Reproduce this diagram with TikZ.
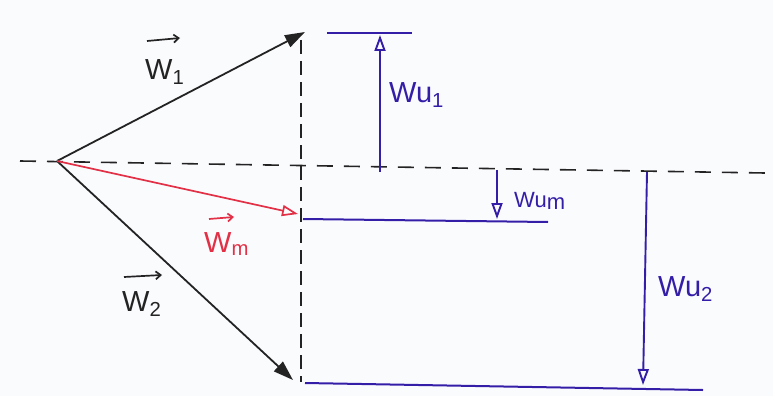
\documentclass[tikz,border=0pt]{standalone}
\usepackage{fontspec}
\setmainfont{Liberation Sans}
\usetikzlibrary{arrows.meta}
\definecolor{bgc}{RGB}{250,251,253}
\definecolor{bl}{RGB}{52,30,168}
\definecolor{rd}{RGB}{226,48,70}
\definecolor{ink}{RGB}{35,35,35}
\tikzset{
  vecblack/.style={ink,line width=1.8pt,-{Triangle[length=20pt,width=13pt]}},
  vecred/.style={rd,line width=1.7pt,-{Triangle[open,length=16pt,width=11pt,line width=1.7pt]}},
  vecblue/.style={bl,line width=1.9pt,-{Triangle[open,length=16pt,width=11pt,line width=1.9pt]}},
  blueline/.style={bl,line width=2pt},
  dashline/.style={ink,line width=1.6pt,dash pattern=on 16pt off 11pt},
  vdashline/.style={ink,line width=1.6pt,dash pattern=on 14pt off 7pt},
  lab/.style={font=\fontsize{29}{29}\selectfont,inner sep=0pt},
  labs/.style={font=\fontsize{22}{22}\selectfont,inner sep=0pt},
  overarrow/.style={line width=1.7pt,-{Straight Barb[length=5pt,width=8pt]}}
}
\begin{document}
\begin{tikzpicture}[x=1pt,y=-1pt]
\fill[bgc] (0,0) rectangle (773,396);
\useasboundingbox (0,0) rectangle (773,396);
% coordinates
\coordinate (O) at (57,161);
\coordinate (hl) at (20,161);
\coordinate (hr) at (765,173);
\coordinate (vt) at (301,40);
\coordinate (vb) at (301,382);
\coordinate (t1) at (305,32);
\coordinate (tm) at (298,214);
\coordinate (t2) at (293,380);
\coordinate (b1l) at (327,33);
\coordinate (b1r) at (412,33);
\coordinate (bml) at (303,219);
\coordinate (bmr) at (548,222);
\coordinate (b2l) at (305,383);
\coordinate (b2r) at (703,390);
\coordinate (u1s) at (380,172);
\coordinate (u1e) at (380,35);
\coordinate (ums) at (497,170);
\coordinate (ume) at (497,219);
\coordinate (u2s) at (647,172);
\coordinate (u2e) at (643,385);
% dashed lines
\draw[dashline] (hl) -- (hr);
\draw[vdashline] (vt) -- (vb);
% blue level lines
\draw[blueline] (b1l) -- (b1r);
\draw[blueline] (bml) -- (bmr);
\draw[blueline] (b2l) -- (b2r);
% vectors
\draw[vecblack] (O) -- (t1);
\draw[vecblack] (O) -- (t2);
\draw[vecred] (O) -- (tm);
\draw[vecblue] (u1s) -- (u1e);
\draw[vecblue] (ums) -- (ume);
\draw[vecblue] (u2s) -- (u2e);
% labels
\node[lab,ink,anchor=base west] (L1) at (145,79) {W$_{\mathrm{1}}$};
\node[lab,ink,anchor=base west] (L2) at (122,311) {W$_{\mathrm{2}}$};
\node[lab,rd,anchor=base west] (Lm) at (204,252) {W$_{\mathrm{m}}$};
\coordinate (a1s) at (147,41);
\coordinate (a1e) at (180,38);
\coordinate (a2s) at (124,277);
\coordinate (a2e) at (162,275);
\coordinate (ams) at (209,219);
\coordinate (ame) at (234,217);
\draw[overarrow,ink] (a1s) -- (a1e);
\draw[overarrow,ink] (a2s) -- (a2e);
\draw[overarrow,rd] (ams) -- (ame);
\node[lab,bl,anchor=base west] (Lu1) at (389,102) {Wu$_{\mathrm{1}}$};
\node[labs,bl,anchor=base west] (Lum) at (514,207) {Wu\raisebox{-2pt}{m}};
\node[lab,bl,anchor=base west] (Lu2) at (658,296) {Wu$_{\mathrm{2}}$};
\end{tikzpicture}
\end{document}
